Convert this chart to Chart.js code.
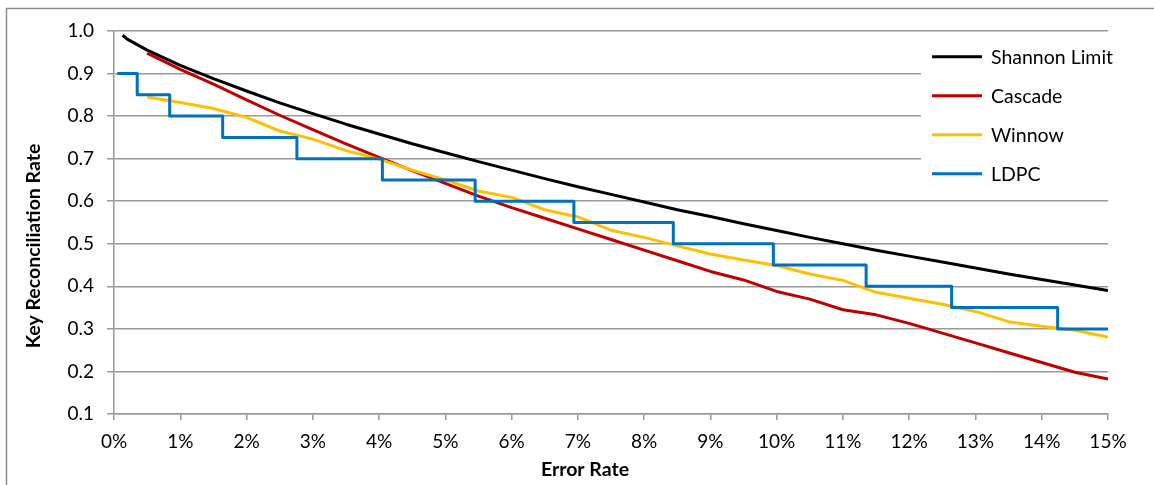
<!DOCTYPE html>
<html>
<head>
<meta charset="utf-8">
<script src="https://cdn.jsdelivr.net/npm/chart.js@4.4.1/dist/chart.umd.min.js"></script>
<style>
html,body{margin:0;padding:0;background:#ffffff;}
#wrap{width:1154px;height:485px;position:relative;}
</style>
</head>
<body>
<div id="wrap"><canvas id="c" width="1154" height="485"></canvas></div>
<script>
// ---- tick labels / titles ----
const xTickValues = [0,1,2,3,4,5,6,7,8,9,10,11,12,13,14,15];
const yTickValues = [0.1,0.2,0.3,0.4,0.5,0.6,0.7,0.8,0.9,1.0];
const xTitle = 'Error Rate';
const yTitle = 'Key Reconciliation Rate';

// ---- series (x = error rate in %, y = key reconciliation rate) ----
const seriesNames = ['Shannon Limit','Cascade','Winnow','LDPC'];

const shannonX = [0.13,0.2,0.5,1.0,1.5,2.0,2.5,3.0,3.5,4.0,4.5,5.0,5.5,6.0,6.5,7.0,7.5,8.0,8.5,9.0,9.5,10.0,10.5,11.0,11.5,12.0,12.5,13.0,13.5,14.0,14.5,15.0];
const shannonY = [0.990,0.981,0.955,0.919,0.888,0.859,0.831,0.806,0.781,0.758,0.735,0.714,0.693,0.673,0.653,0.634,0.616,0.598,0.580,0.564,0.547,0.531,0.515,0.500,0.485,0.471,0.457,0.443,0.429,0.416,0.403,0.390];

const cascadeX = [0.5,1.0,1.5,2.0,2.5,3.0,3.5,4.0,4.5,5.0,5.5,6.0,6.5,7.0,7.5,8.0,8.5,9.0,9.5,10.0,10.5,11.0,11.5,12.0,12.5,13.0,13.5,14.0,14.5,15.0];
const cascadeY = [0.948,0.910,0.875,0.838,0.802,0.768,0.735,0.703,0.672,0.642,0.612,0.585,0.560,0.535,0.510,0.485,0.460,0.435,0.415,0.388,0.370,0.345,0.333,0.313,0.290,0.267,0.244,0.221,0.198,0.182];

const winnowX = [0.5,1.0,1.5,2.0,2.5,3.0,3.5,4.0,4.5,5.0,5.5,6.0,6.5,7.0,7.5,8.0,8.5,9.0,9.5,10.0,10.5,11.0,11.5,12.0,12.5,13.0,13.5,14.0,14.5,15.0];
const winnowY = [0.845,0.832,0.818,0.797,0.765,0.746,0.719,0.699,0.673,0.650,0.624,0.609,0.580,0.563,0.532,0.515,0.495,0.476,0.462,0.449,0.429,0.414,0.386,0.372,0.358,0.341,0.317,0.306,0.297,0.281];

const ldpcX = [0.05,0.35,0.84,1.64,2.76,4.05,5.45,6.94,8.44,9.95,11.35,12.64,14.24,15.0];
const ldpcY = [0.90,0.85,0.80,0.75,0.70,0.65,0.60,0.55,0.50,0.45,0.40,0.35,0.30,0.30];

const seriesColors = ['#000000','#C00000','#FFC000','#0070C0'];

const FONT = 'Lato, "Open Sans", sans-serif';
const GRID = '#9a9a9a';

function pts(xs, ys){ return xs.map((x,i)=>({x:x, y:ys[i]})); }

const borderPlugin = {
  id:'outerBorder',
  beforeDraw(chart){
    const ctx = chart.ctx;
    ctx.save();
    ctx.strokeStyle = '#8c8c8c';
    ctx.lineWidth = 1.5;
    ctx.beginPath();
    ctx.moveTo(6.5, 490);
    ctx.lineTo(6.5, 8.5);
    ctx.lineTo(1160, 8.5);
    ctx.stroke();
    ctx.restore();
  }
};

const titlePlugin = {
  id:'axisTitles',
  afterDraw(chart){
    const ctx = chart.ctx;
    ctx.save();
    ctx.fillStyle = '#000000';
    ctx.font = 'bold 19.5px ' + FONT;
    ctx.textAlign = 'center';
    ctx.textBaseline = 'middle';
    ctx.fillText(xTitle, 585, 470);
    ctx.translate(34, 246);
    ctx.rotate(-Math.PI / 2);
    ctx.fillText(yTitle, 0, 0);
    ctx.restore();
  }
};

const legendPlugin = {
  id:'xlLegend',
  beforeDatasetsDraw(chart){
    const ctx = chart.ctx;
    ctx.save();
    ctx.fillStyle = '#ffffff';
    ctx.fillRect(921, 37, 240, 157);
    const rowTop = 56.7, rowGap = 39;
    ctx.font = '19.5px ' + FONT;
    ctx.textBaseline = 'middle';
    ctx.textAlign = 'left';
    chart.data.datasets.forEach((ds, i) => {
      const y = rowTop + i * rowGap;
      ctx.strokeStyle = ds.borderColor;
      ctx.lineWidth = 3;
      ctx.beginPath();
      ctx.moveTo(932, y);
      ctx.lineTo(982, y);
      ctx.stroke();
      ctx.fillStyle = '#000000';
      ctx.fillText(ds.label, 991, y + 1);
    });
    ctx.restore();
  }
};

const datasets = [
  {label:seriesNames[0], data:pts(shannonX, shannonY), borderColor:seriesColors[0]},
  {label:seriesNames[1], data:pts(cascadeX, cascadeY), borderColor:seriesColors[1]},
  {label:seriesNames[2], data:pts(winnowX, winnowY), borderColor:seriesColors[2]},
  {label:seriesNames[3], data:pts(ldpcX, ldpcY), borderColor:seriesColors[3], stepped:true}
].map(d => Object.assign({
  borderWidth:3, pointRadius:0, pointHoverRadius:0, tension:0, fill:false,
  borderJoinStyle:'round', backgroundColor:d.borderColor
}, d));

// draw order: Excel draws later series on top
datasets.forEach((d,i)=>{ d.order = 4 - i; });

new Chart(document.getElementById('c'), {
  type:'line',
  data:{ datasets: datasets },
  plugins:[borderPlugin, legendPlugin, titlePlugin],
  options:{
    responsive:false,
    animation:false,
    events:[],
    layout:{ padding:{ left:0, top:31, right:46, bottom:0 } },
    plugins:{ legend:{display:false}, tooltip:{enabled:false}, title:{display:false} },
    scales:{
      x:{
        type:'linear', min:0, max:15,
        afterBuildTicks(s){ s.ticks = xTickValues.map(v=>({value:v})); },
        afterFit(s){ s.height = 71; },
        ticks:{ callback:v=>v+'%', color:'#000', font:{family:FONT,size:19}, padding:10, maxRotation:0, autoSkip:false },
        grid:{ drawOnChartArea:false, drawTicks:true, tickLength:6, color:GRID, lineWidth:1.5 },
        border:{ color:GRID, width:1.5 },
        title:{ display:false, text:xTitle }
      },
      y:{
        type:'linear', min:0.1, max:1.0,
        afterBuildTicks(s){ s.ticks = yTickValues.map(v=>({value:v})); },
        afterFit(s){ s.width = 114; },
        ticks:{ callback:v=>v.toFixed(1), color:'#000', font:{family:FONT,size:19}, padding:13 },
        grid:{ color:GRID, lineWidth:1.5, drawTicks:true, tickLength:7 },
        border:{ color:GRID, width:1.5 },
        title:{ display:false, text:yTitle }
      }
    }
  }
});
</script>
</body>
</html>
